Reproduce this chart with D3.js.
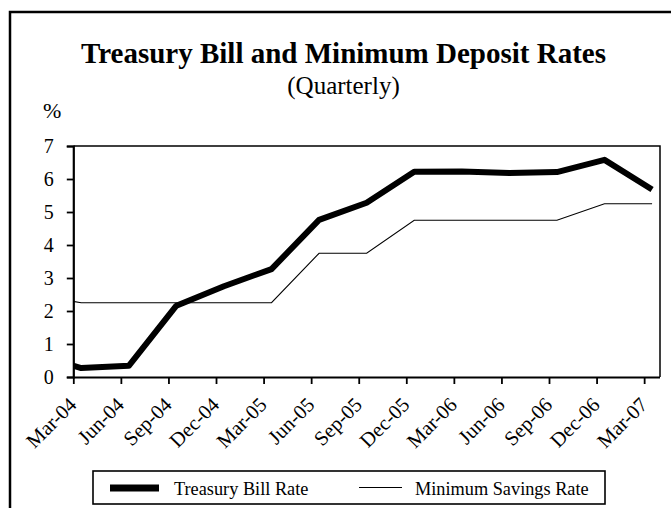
<!DOCTYPE html>
<html>
<head>
<meta charset="utf-8">
<script src="https://cdn.jsdelivr.net/npm/d3@7/dist/d3.min.js"></script>
<style>
  html, body { margin: 0; padding: 0; background: #fff; }
  svg { display: block; }
  text { font-family: "Liberation Serif", "Times New Roman", serif; fill: #000; }
</style>
</head>
<body>
<svg id="chart" width="671" height="508"></svg>
<script>
// ---- data ----
const quarters = ["Dec-03","Mar-04","Jun-04","Sep-04","Dec-04","Mar-05","Jun-05","Sep-05","Dec-05","Mar-06","Jun-06","Sep-06","Dec-06","Mar-07"];
const treasuryBill = [0.70, 0.27, 0.34, 2.16, 2.75, 3.27, 4.76, 5.28, 6.22, 6.23, 6.18, 6.21, 6.58, 5.68];
const minSavings   = [2.50, 2.25, 2.25, 2.25, 2.25, 2.25, 3.75, 3.75, 4.75, 4.75, 4.75, 4.75, 5.25, 5.25];
const xTickLabels = ["Mar-04","Jun-04","Sep-04","Dec-04","Mar-05","Jun-05","Sep-05","Dec-05","Mar-06","Jun-06","Sep-06","Dec-06","Mar-07"];
const yTicks = [0,1,2,3,4,5,6,7];
const titleText = "Treasury Bill and Minimum Deposit Rates";
const subtitleText = "(Quarterly)";
const yUnit = "%";
const seriesNames = ["Treasury Bill Rate", "Minimum Savings Rate"];

// ---- helpers ----
const monNames = ["Jan","Feb","Mar","Apr","May","Jun","Jul","Aug","Sep","Oct","Nov","Dec"];
function monthIndex(lbl) { // months since Mar-2004
  const [m, y] = lbl.split("-");
  return (2000 + +y - 2004) * 12 + monNames.indexOf(m) - 2;
}

const svg = d3.select("#chart");
const L = 73.3, R = 660, T = 146, B = 377;

const x = d3.scaleLinear().domain([0, 37]).range([L, R]);
const y = d3.scaleLinear().domain([0, 7]).range([B, T]);

// outer frame
svg.append("rect").attr("x", 10).attr("y", 12).attr("width", 720).attr("height", 540)
  .attr("fill", "none").attr("stroke", "#000").attr("stroke-width", 2.5);

// title
svg.append("text").attr("x", 343.5).attr("y", 63).attr("text-anchor", "middle")
  .attr("font-size", 29).attr("font-weight", "bold").text(titleText);
svg.append("text").attr("x", 343.5).attr("y", 94).attr("text-anchor", "middle")
  .attr("font-size", 25).text(subtitleText);
svg.append("text").attr("x", 43).attr("y", 118).attr("font-size", 22).text(yUnit);

// plot border (top & right)
svg.append("path").attr("d", `M${L},${T}H${R}V${B}`).attr("fill", "none")
  .attr("stroke", "#000").attr("stroke-width", 1.5);

// y axis
const yAxis = d3.axisLeft(y).tickValues(yTicks).tickSize(6.5).tickPadding(13).tickFormat(d3.format("d"));
const gy = svg.append("g").attr("transform", `translate(${L},0)`).call(yAxis);
gy.select(".domain").attr("stroke-width", 2.2);
gy.selectAll(".tick line").attr("stroke-width", 1.8);
gy.selectAll(".tick text").attr("font-size", 20).attr("dy", "0.34em");

// x axis
const tickPos = xTickLabels.map(monthIndex);
const xAxis = d3.axisBottom(x).tickValues(tickPos).tickSize(7).tickFormat((d, i) => xTickLabels[i]);
const gx = svg.append("g").attr("transform", `translate(0,${B})`).call(xAxis);
gx.select(".domain").attr("stroke-width", 2.2).attr("d", `M${L},0.5H${R}`);
gx.selectAll(".tick line").attr("stroke-width", 1.8);
gx.selectAll(".tick text").attr("font-size", 20.5)
  .attr("text-anchor", "end").attr("dy", null).attr("y", null)
  .attr("transform", "translate(4,29) rotate(-45)");

// clip
svg.append("defs").append("clipPath").attr("id", "clip")
  .append("rect").attr("x", L).attr("y", T - 10).attr("width", R - L).attr("height", B - T + 20);

const pts = s => quarters.map((q, i) => [x(monthIndex(q) + 0.5), y(s[i])]);
const line = d3.line();

const gl = svg.append("g").attr("clip-path", "url(#clip)");
gl.append("path").attr("d", line(pts(minSavings))).attr("fill", "none")
  .attr("stroke", "#000").attr("stroke-width", 1.1);
gl.append("path").attr("d", line(pts(treasuryBill))).attr("fill", "none")
  .attr("stroke", "#000").attr("stroke-width", 6).attr("stroke-linejoin", "round");

// legend
const lg = svg.append("g");
lg.append("rect").attr("x", 93).attr("y", 471).attr("width", 512).attr("height", 33)
  .attr("fill", "#fff").attr("stroke", "#000").attr("stroke-width", 1.6);
lg.append("line").attr("x1", 110).attr("x2", 159).attr("y1", 488).attr("y2", 488)
  .attr("stroke", "#000").attr("stroke-width", 7);
lg.append("text").attr("x", 174).attr("y", 495).attr("font-size", 18.3).text(seriesNames[0]);
lg.append("line").attr("x1", 359).attr("x2", 402).attr("y1", 487.5).attr("y2", 487.5)
  .attr("stroke", "#000").attr("stroke-width", 1.1);
lg.append("text").attr("x", 415).attr("y", 495).attr("font-size", 18.3).text(seriesNames[1]);
</script>
</body>
</html>
